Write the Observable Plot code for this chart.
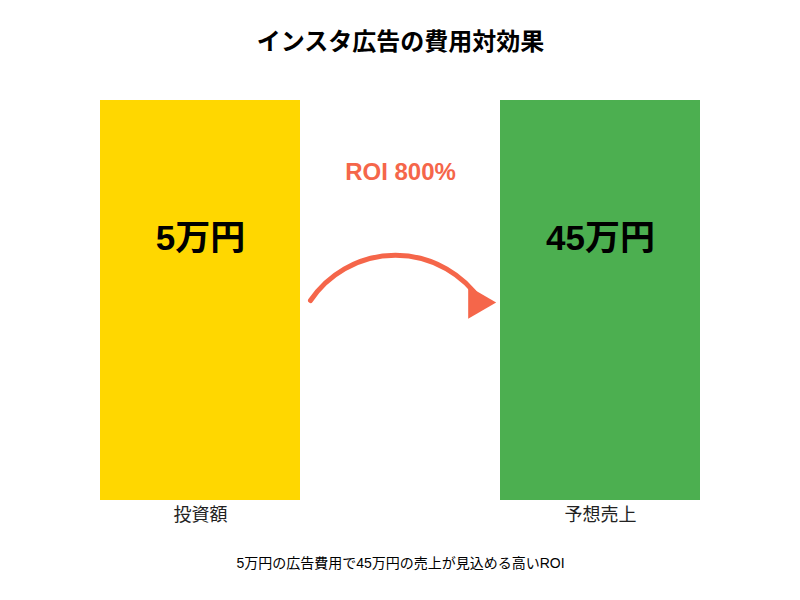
<!DOCTYPE html>
<html>
<head>
<meta charset="utf-8">
<script src="https://cdn.jsdelivr.net/npm/d3@7"></script>
<script src="https://cdn.jsdelivr.net/npm/@observablehq/plot@0.6"></script>
<style>
  html, body { margin: 0; padding: 0; background: #fff; }
  svg { font-family: "Liberation Sans", "Noto Sans CJK JP", sans-serif; }
</style>
</head>
<body>
<div id="chart"></div>
<script>
const categories = ["投資額", "予想売上"];
const amounts = [5, 45];             // 万円
const valueLabels = ["5万円", "45万円"];
const barColors = ["#FFD700", "#4CAF50"];
const titleText = "インスタ広告の費用対効果";
const roiText = "ROI 800%";
const captionText = "5万円の広告費用で45万円の売上が見込める高いROI";

const BAR_W = 0.5;   // bar width in category units
const GAP = 0.025;   // arrow gap from bar edges, category units

const bars = categories.map((c, i) => ({i, category: c, amount: amounts[i], label: valueLabels[i], color: barColors[i]}));
const arrowData = [{
  from: 0 + BAR_W / 2 + GAP,
  to: 1 - BAR_W / 2 - 0.05,
  level: amounts[0] / 2
}];

const FONT = '"Liberation Sans", "Noto Sans CJK JP", sans-serif';
const ARROW = "#F5664A";

const chart = Plot.plot({
  width: 800,
  height: 600,
  marginTop: 100,
  marginBottom: 100,
  marginLeft: 0,
  marginRight: 0,
  style: {fontFamily: FONT, background: "#fff"},
  x: {domain: [-0.5, categories.length - 0.5], axis: null},
  y: {domain: [0, amounts[0]], clamp: true, axis: null},
  marks: [
    Plot.rectY(bars, {x1: d => d.i - BAR_W / 2, x2: d => d.i + BAR_W / 2, y: "amount", fill: "color"}),
    Plot.axisX({ticks: categories.map((c, i) => i), tickFormat: i => categories[i], tickSize: 0, tickPadding: 8, fontSize: 18, fill: "#222", label: null}),
    Plot.text(bars, {x: "i", y: "amount", text: "label", dy: 138, lineAnchor: "middle", fontSize: 35, fontWeight: "bold", fill: "#000"}),
    Plot.arrow(arrowData, {x1: "from", x2: "to", y1: "level", y2: "level", bend: 56, headLength: 0, stroke: ARROW, strokeWidth: 5}),
    Plot.dot(arrowData, {x: "to", y: "level", dx: -3, dy: 2, symbol: "triangle", r: 12, rotate: 90, fill: ARROW, stroke: null}),
    Plot.text([roiText], {frameAnchor: "top", lineAnchor: "middle", text: d => d, dy: 72, fontSize: 24, fontWeight: "bold", fill: ARROW}),
    Plot.text([titleText], {frameAnchor: "top", lineAnchor: "middle", text: d => d, dy: -58, fontSize: 24, fontWeight: "bold", fill: "#000", fontFamily: '"Noto Sans CJK JP", sans-serif'}),
    Plot.text([captionText], {frameAnchor: "bottom", lineAnchor: "middle", text: d => d, dy: 63, fontSize: 14, fill: "#000"})
  ]
});
document.getElementById("chart").appendChild(chart);
</script>
</body>
</html>
